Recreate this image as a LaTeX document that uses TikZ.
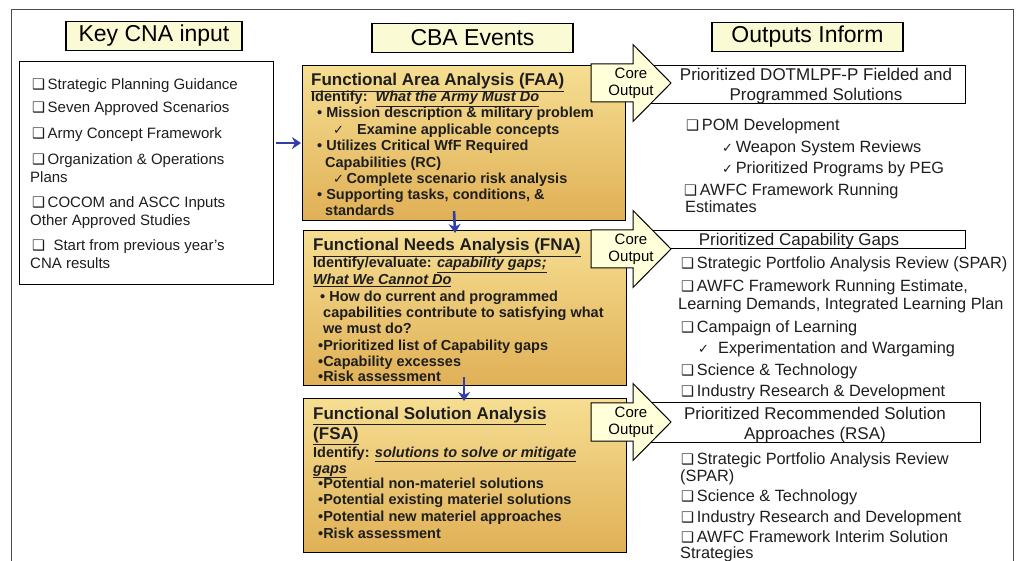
\documentclass[tikz,border=0pt]{standalone}
\usepackage{fontspec}
\setmainfont{Liberation Sans}
\newfontfamily\symfont{DejaVu Sans}
\usetikzlibrary{arrows.meta}

\definecolor{titlefill}{RGB}{250,250,212}
\definecolor{goldlight}{RGB}{246,222,146}
\definecolor{golddark}{RGB}{224,176,86}
\definecolor{corefill}{RGB}{255,255,218}
\definecolor{arrowblue}{RGB}{52,62,170}
\definecolor{textgray}{RGB}{30,30,30}

\newcommand{\sqbox}{{\symfont\fontsize{14.5}{14}\selectfont ❑}}
\newcommand{\chkmark}{{\symfont\fontsize{13}{13}\selectfont ✓}}

\begin{document}
\begin{tikzpicture}[x=1pt,y=-1pt,
    title node/.style={draw,line width=1.6pt,fill=titlefill,font=\fontsize{23}{26}\selectfont,minimum height=29pt,inner sep=0pt},
    event box/.style={draw,line width=1.1pt,top color=goldlight,bottom color=golddark,anchor=north west,minimum width=323pt,minimum height=155pt,inner sep=0pt},
    out box/.style={draw,line width=1pt,fill=white,anchor=north west,inner sep=0pt},
    evt/.style={anchor=base west,inner sep=0pt,text=textgray,font=\bfseries\fontsize{14.5}{16}\selectfont},
    evt head/.style={evt,font=\bfseries\fontsize{17}{20}\selectfont},
    in text/.style={anchor=base west,inner sep=0pt,text=textgray,font=\fontsize{15}{18}\selectfont},
    out text/.style={anchor=base west,inner sep=0pt,text=textgray,font=\fontsize{16.3}{19}\selectfont},
    out head/.style={anchor=base,inner sep=0pt,text=textgray,font=\fontsize{17}{20}\selectfont},
    core arrow/.style={draw,line width=1pt,fill=corefill,line join=miter},
    core text/.style={align=center,inner sep=0pt,font=\fontsize{15}{17}\selectfont},
    blue arrow/.style={draw=arrowblue,line width=2.6pt,-{Stealth[length=9pt,width=12pt]}}]
\useasboundingbox (0,0) rectangle (1018,561);
\fill[white] (0,0) rectangle (1018,561);
\draw[line width=0.9pt,black!70] (11,561) -- (11,9) -- (1013,9) -- (1013,561);

% column titles
\node[title node,minimum width=176pt] (keyin) at (154,36) {Key CNA input};
\node[title node,minimum width=201pt] (cba) at (472.5,38) {CBA Events};
\node[title node,minimum width=191pt] (outinf) at (807.5,37) {Outputs Inform};

% key input
\node[draw,line width=1.3pt,anchor=north west,minimum width=254pt,minimum height=223pt,inner sep=0pt] (inbox) at (19,61) {};
\foreach \x/\y/\t [count=\i] in {32/90/{\sqbox\,Strategic Planning Guidance},
    32/113/{\sqbox\,Seven Approved Scenarios},
    32/139/{\sqbox\,Army Concept Framework},
    32/165/{\sqbox\,Organization \& Operations},
    30/183/{Plans},
    32/208/{\sqbox\,COCOM and ASCC Inputs},
    30/226/{Other Approved Studies},
    32/251/{\sqbox\ \ Start from previous year's},
    30/269/{CNA results}}
  \node[in text] (in\i) at (\x,\y) {\t};

% CBA events
\node[event box] (faa) at (302,65) {};
\node[event box] (fna) at (303,230) {};
\node[event box,minimum height=154pt] (fsa) at (303,398) {};

% output boxes
\node[out box,minimum width=315pt,minimum height=38pt] (outa) at (650,65) {};
\node[out box,minimum width=315pt,minimum height=18pt] (outb) at (650,230) {};
\node[out box,minimum width=330pt,minimum height=40pt] (outc) at (650,402) {};

% core output arrows
\foreach \c [count=\i] in {83,249,422}{
  \draw[core arrow] (591,\c-19) -- (633,\c-19) -- (633,\c-38.5) -- (671,\c)
    -- (633,\c+38.5) -- (633,\c+19) -- (591,\c+19) -- cycle;
  \node[core text] (core\i) at (631,\c) {Core\\Output};
}

% FAA text
\node[evt head] (faah) at (311,86) {\underline{Functional Area Analysis (FAA)}};
\foreach \x/\y/\t [count=\i] in {311/102/{Identify:\ \ \underline{\textit{What the Army Must Do}}},
    317/118/{• Mission description \& military problem},
    333/135/{\makebox[24pt][l]{\chkmark}Examine applicable concepts},
    317/151/{• Utilizes Critical WfF Required},
    325/168/{Capabilities (RC)},
    333/184/{\chkmark\,Complete scenario risk analysis},
    317/200/{• Supporting tasks, conditions, \&},
    325/216/{standards}}
  \node[evt] (faa\i) at (\x,\y) {\t};

% FNA text
\node[evt head] (fnah) at (313,251) {\underline{Functional Needs Analysis (FNA)}};
\foreach \x/\y/\t [count=\i] in {313/268/{Identify/evaluate: \underline{\textit{capability gaps;}}},
    313/285/{\underline{\textit{What We Cannot Do}}},
    320/302/{• How do current and programmed},
    323/318/{capabilities contribute to satisfying what},
    323/334/{we must do?},
    318/351/{•Prioritized list of Capability gaps},
    318/367/{•Capability excesses},
    318/382/{•Risk assessment}}
  \node[evt] (fna\i) at (\x,\y) {\t};

% FSA text
\node[evt head] (fsah) at (313,419) {\underline{Functional Solution Analysis}};
\node[evt head] (fsah2) at (313,439) {\underline{(FSA)}};
\foreach \x/\y/\t [count=\i] in {313/457/{Identify: \underline{\textit{solutions to solve or mitigate}}},
    313/473/{\underline{\textit{gaps}}},
    318/488/{•Potential non-materiel solutions},
    318/504/{•Potential existing materiel solutions},
    318/521/{•Potential new materiel approaches},
    318/538/{•Risk assessment}}
  \node[evt] (fsa\i) at (\x,\y) {\t};

% output headings
\node[out head] (outah) at (816,81) {Prioritized DOTMLPF-P Fielded and};
\node[out head] (outah2) at (816,101) {Programmed Solutions};
\node[out head] (outbh) at (799,246) {Prioritized Capability Gaps};
\node[out head] (outch) at (815,419) {Prioritized Recommended Solution};
\node[out head] (outch2) at (815,439) {Approaches (RSA)};

% output lists
\foreach \x/\y/\t [count=\i] in {686/131/{\sqbox\,POM Development},
    722/153/{\chkmark\,Weapon System Reviews},
    722/174/{\chkmark\,Prioritized Programs by PEG},
    684/196/{\sqbox\,AWFC Framework Running},
    685/213/{Estimates},
    681/269/{\sqbox\,Strategic Portfolio Analysis Review (SPAR)},
    681/292/{\sqbox\,AWFC Framework Running Estimate,},
    678/310/{Learning Demands, Integrated Learning Plan},
    681/333/{\sqbox\,Campaign of Learning},
    698/354/{\chkmark\ \ Experimentation and Wargaming},
    681/376/{\sqbox\,Science \& Technology},
    681/396/{\sqbox\,Industry Research \& Development},
    681/464/{\sqbox\,Strategic Portfolio Analysis Review},
    680/481/{(SPAR)},
    681/501/{\sqbox\,Science \& Technology},
    681/522/{\sqbox\,Industry Research and Development},
    681/542/{\sqbox\,AWFC Framework Interim Solution},
    680/558/{Strategies}}
  \node[out text] (out\i) at (\x,\y) {\t};

% flow arrows
\draw[blue arrow,shorten <=2pt,shorten >=1pt] (inbox.east |- faa.west) -- (faa.west);
\draw[blue arrow] ([xshift=-10pt,yshift=10pt]faa.south) -- ([xshift=-10pt,yshift=-3pt]fna.north);
\draw[blue arrow] ([xshift=-1pt,yshift=9pt]fna.south) -- ([xshift=-1pt,yshift=-3pt]fsa.north);
\end{tikzpicture}
\end{document}
